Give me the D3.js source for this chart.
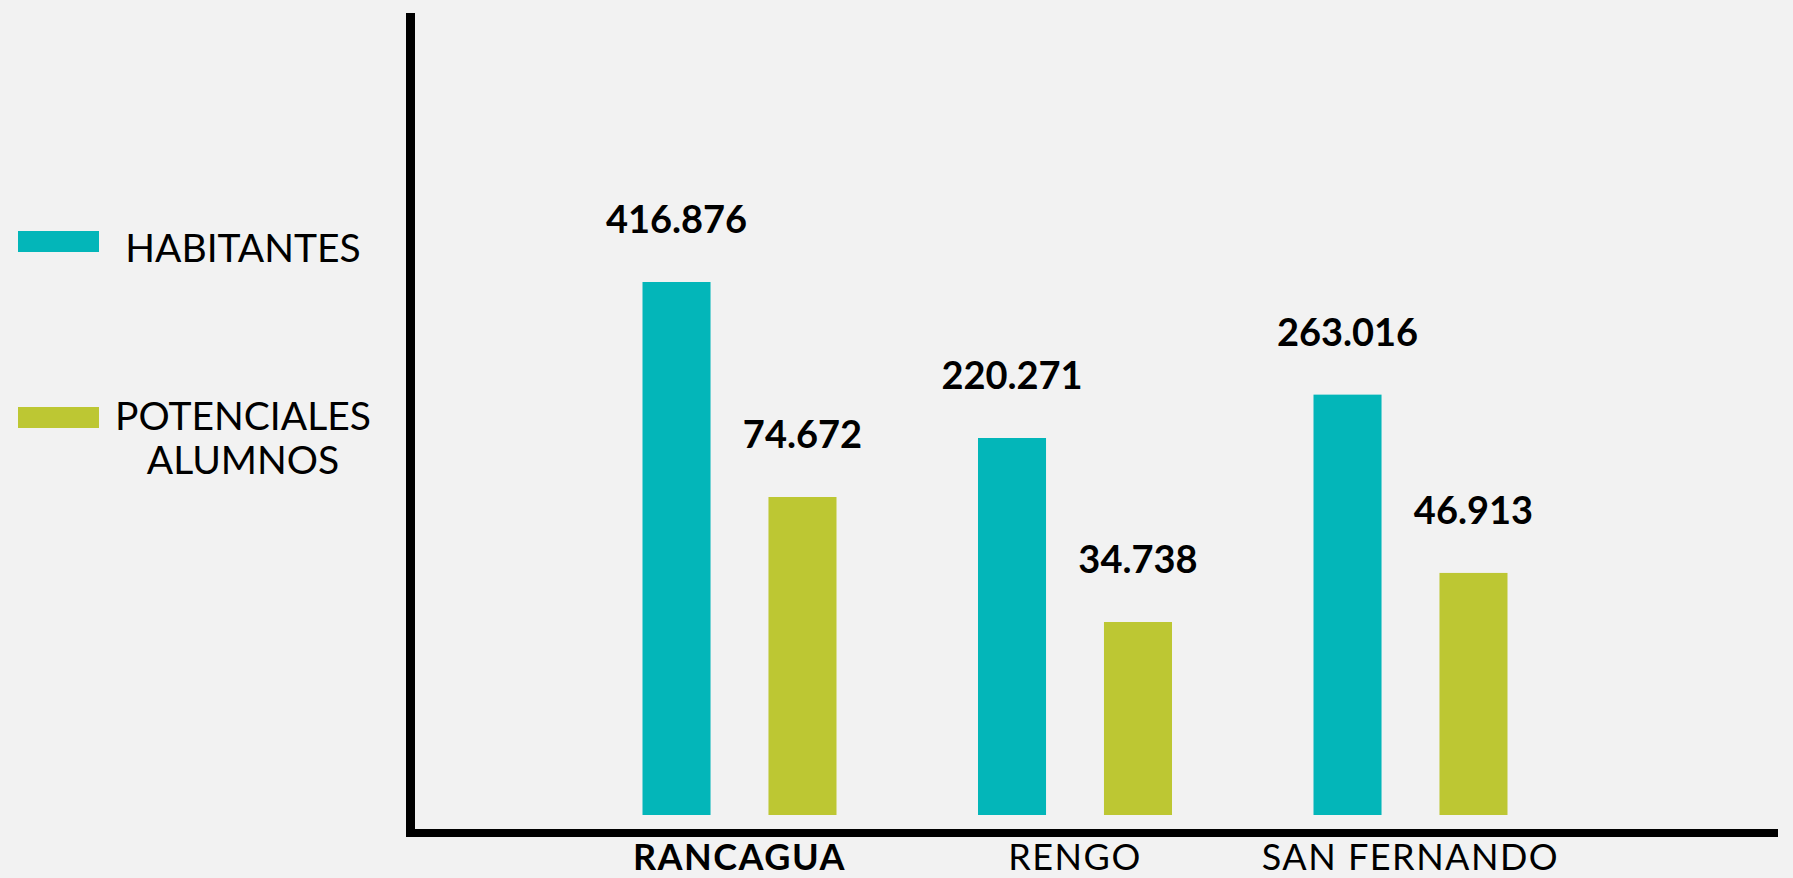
<!DOCTYPE html>
<html>
<head>
<meta charset="utf-8">
<script src="https://cdn.jsdelivr.net/npm/d3@7"></script>
<style>
  html, body { margin: 0; padding: 0; background: #f2f2f2; }
  svg { display: block; font-family: Lato, "Open Sans", sans-serif; }
</style>
</head>
<body>
<svg id="chart"></svg>
<script>
let cities = ['RANCAGUA', 'RENGO', 'SAN FERNANDO']
let habitantes = [416876, 220271, 263016]
let potenciales = [74672, 34738, 46913]
let seriesNames = ['HABITANTES', 'POTENCIALES ALUMNOS']

let outerWidth = 1793
let outerHeight = 878
let baseline = 815   // bars stop a little above the axis line

let teal = '#03b6b9'
let olive = '#bdc733'

let svg = d3.select('#chart')
  .attr('width', outerWidth)
  .attr('height', outerHeight)

let fmt = d3.formatLocale({ decimal: ',', thousands: '.', grouping: [3] }).format(',d')

// outer band per city, inner band per series
let cityScale = d3.scaleBand()
  .domain(cities)
  .range([571.75, 1578.25])

let seriesScale = d3.scaleBand()
  .domain(seriesNames)
  .range([70.75, 264.75])
  .paddingInner(0.46)

// the original bars are not to a linear scale, each series has its own
// log scale that gets close to what was drawn
let habScale = d3.scaleLog()
  .domain(d3.extent(habitantes))
  .range([438, 282])

let potScale = d3.scaleLog()
  .domain(d3.extent(potenciales))
  .range([622, 497])

let rows = []
cities.forEach((c, i) => {
  rows.push({ city: c, series: seriesNames[0], value: habitantes[i], y: habScale(habitantes[i]), color: teal })
  rows.push({ city: c, series: seriesNames[1], value: potenciales[i], y: potScale(potenciales[i]), color: olive })
})

svg.append('rect')
  .attr('width', outerWidth)
  .attr('height', outerHeight)
  .attr('fill', '#f2f2f2')

svg.selectAll('rect.bar')
  .data(rows)
  .enter()
  .append('rect')
  .attr('class', 'bar')
  .attr('x', d => cityScale(d.city) + seriesScale(d.series))
  .attr('y', d => d.y)
  .attr('width', seriesScale.bandwidth())
  .attr('height', d => baseline - d.y)
  .attr('fill', d => d.color)

svg.selectAll('text.value')
  .data(rows)
  .enter()
  .append('text')
  .attr('class', 'value')
  .attr('x', d => cityScale(d.city) + seriesScale(d.series) + seriesScale.bandwidth() / 2)
  .attr('y', d => d.y - 49)
  .attr('text-anchor', 'middle')
  .style('font-size', '38px')
  .style('font-weight', 700)
  .attr('fill', '#000')
  .text(d => fmt(d.value))

// axes: plain thick lines, no ticks
svg.append('line')  // y
  .attr('x1', 410.5).attr('x2', 410.5)
  .attr('y1', 13).attr('y2', 837)
  .attr('stroke', '#000')
  .attr('stroke-width', 9)

svg.append('line')  // x
  .attr('x1', 406).attr('x2', 1778)
  .attr('y1', 833).attr('y2', 833)
  .attr('stroke', '#000')
  .attr('stroke-width', 8)

svg.selectAll('text.city')
  .data(cities)
  .enter()
  .append('text')
  .attr('class', 'city')
  .attr('x', d => cityScale(d) + cityScale.bandwidth() / 2)
  .attr('y', 870)
  .attr('text-anchor', 'middle')
  .style('font-size', '36px')
  .style('letter-spacing', '1.5px')
  .style('font-weight', (d, i) => i == 0 ? 700 : 400)
  .attr('fill', '#000')
  .text(d => d)

// legend
let legend = [
  { name: seriesNames[0], color: teal, swatchY: 231, lines: ['HABITANTES'], textY: 261.7 },
  { name: seriesNames[1], color: olive, swatchY: 407, lines: ['POTENCIALES', 'ALUMNOS'], textY: 430 }
]

legend.forEach(l => {
  svg.append('rect')
    .attr('x', 18)
    .attr('y', l.swatchY)
    .attr('width', 81)
    .attr('height', 21)
    .attr('fill', l.color)

  l.lines.forEach((t, j) => {
    svg.append('text')
      .attr('x', 243)
      .attr('y', l.textY + j * 44)
      .attr('text-anchor', 'middle')
      .style('font-size', '39px')
      .attr('fill', '#000')
      .text(t)
  })
})
</script>
</body>
</html>
